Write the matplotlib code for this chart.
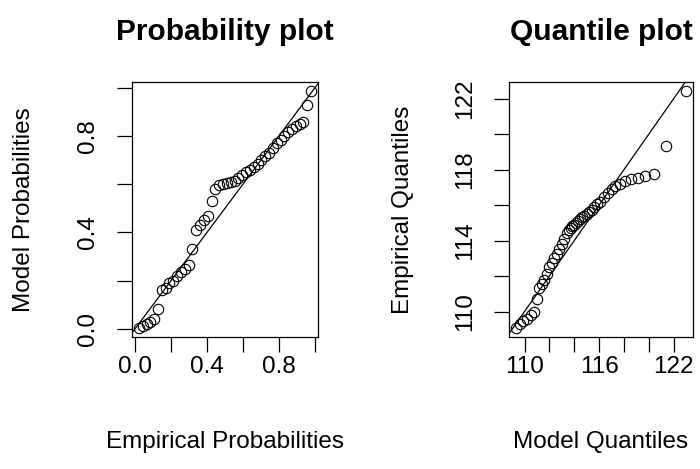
import matplotlib
matplotlib.use("Agg")
import matplotlib.pyplot as plt

plt.rcParams['font.family'] = ['Liberation Sans', 'DejaVu Sans']

# Probability plot: empirical vs model probabilities
emp_prob = [0.021, 0.043, 0.064, 0.085, 0.106, 0.128, 0.149, 0.170, 0.191, 0.213,
            0.234, 0.255, 0.277, 0.298, 0.319, 0.340, 0.362, 0.383, 0.404, 0.426,
            0.447, 0.468, 0.489, 0.511, 0.532, 0.553, 0.574, 0.596, 0.617, 0.638,
            0.660, 0.681, 0.702, 0.723, 0.745, 0.766, 0.787, 0.809, 0.830, 0.851,
            0.872, 0.894, 0.915, 0.936, 0.957, 0.979]
model_prob = [0.005, 0.010, 0.020, 0.030, 0.040, 0.082, 0.160, 0.170, 0.190, 0.200,
              0.220, 0.235, 0.250, 0.265, 0.330, 0.410, 0.430, 0.450, 0.470, 0.530,
              0.580, 0.595, 0.600, 0.605, 0.610, 0.615, 0.625, 0.640, 0.650, 0.660,
              0.670, 0.685, 0.700, 0.715, 0.730, 0.750, 0.770, 0.785, 0.800, 0.815,
              0.830, 0.840, 0.850, 0.860, 0.930, 0.985]

# Quantile plot: model vs empirical quantiles
model_q = [109.3, 109.6, 109.9, 110.2, 110.5, 110.8, 111.0, 111.2, 111.4, 111.6,
           111.8, 112.0, 112.2, 112.4, 112.6, 112.8, 113.0, 113.2, 113.4, 113.55,
           113.7, 113.85, 114.0, 114.15, 114.3, 114.45, 114.6, 114.8, 115.0, 115.2,
           115.4, 115.6, 115.85, 116.1, 116.4, 116.7, 117.0, 117.3, 117.7, 118.1,
           118.6, 119.1, 119.7, 120.4, 121.4, 123.0]
emp_q = [109.1, 109.3, 109.45, 109.6, 109.8, 110.0, 110.7, 111.3, 111.55, 111.8,
         112.1, 112.5, 112.75, 113.0, 113.25, 113.5, 113.8, 114.1, 114.4, 114.6,
         114.7, 114.8, 114.9, 115.0, 115.1, 115.2, 115.3, 115.4, 115.5, 115.6,
         115.75, 115.9, 116.05, 116.2, 116.45, 116.7, 116.9, 117.05, 117.2, 117.35,
         117.45, 117.55, 117.65, 117.75, 119.3, 122.4]

prob_ticks = [0.0, 0.2, 0.4, 0.6, 0.8, 1.0]
prob_labels = ['0.0', '', '0.4', '', '0.8', '']
q_ticks = [110, 112, 114, 116, 118, 120, 122]
qx_labels = ['110', '', '', '116', '', '', '122']
qy_labels = ['110', '', '114', '', '118', '', '122']

FS = 17.5


def r_range(v):
    # R-style 4% expansion of the data range
    lo, hi = min(v), max(v)
    d = (hi - lo) * 0.04
    return lo - d, hi + d


def style(ax, xt, xl, yt, yl):
    ax.set_xticks(xt)
    ax.set_xticklabels(xl, fontsize=FS)
    ax.set_yticks(yt)
    ax.set_yticklabels(yl, fontsize=FS, rotation=90, va='center')
    ax.tick_params(direction='out', length=10.5, width=0.9)
    ax.tick_params(axis='x', pad=3)
    ax.tick_params(axis='y', pad=13)
    for s in ax.spines.values():
        s.set_linewidth(0.9)


fig = plt.figure(figsize=(7, 4.69), dpi=100)
ax1 = fig.add_axes([132 / 700, 1 - 337 / 469, 186 / 700, 255 / 469])
ax2 = fig.add_axes([509 / 700, 1 - 337 / 469, 184 / 700, 255 / 469])

ax1.plot(emp_prob, model_prob, 'o', mfc='none', mec='black', ms=7.5, mew=0.8)
ax1.axline((0, 0), slope=1, color='black', lw=0.9)
ax1.set_xlim(r_range(emp_prob))
ax1.set_ylim(r_range(model_prob))
style(ax1, prob_ticks, prob_labels, prob_ticks, prob_labels)
ax1.set_title('Probability plot', fontsize=21.5, fontweight='bold', pad=30)
ax1.set_xlabel('Empirical Probabilities', fontsize=FS)
ax1.set_ylabel('Model Probabilities', fontsize=FS)
ax1.xaxis.set_label_coords(0.5, -0.37)
ax1.yaxis.set_label_coords(-0.52, 0.5)

ax2.plot(model_q, emp_q, 'o', mfc='none', mec='black', ms=7.5, mew=0.8)
ax2.axline((110, 110), slope=1, color='black', lw=0.9)
ax2.set_xlim(r_range(model_q))
ax2.set_ylim(r_range(emp_q))
style(ax2, q_ticks, qx_labels, q_ticks, qy_labels)
ax2.set_title('Quantile plot', fontsize=21.5, fontweight='bold', pad=30)
ax2.set_xlabel('Model Quantiles', fontsize=FS)
ax2.set_ylabel('Empirical Quantiles', fontsize=FS)
ax2.xaxis.set_label_coords(0.5, -0.37)
ax2.yaxis.set_label_coords(-0.516, 0.5)

fig.savefig('out.png', dpi=100)
